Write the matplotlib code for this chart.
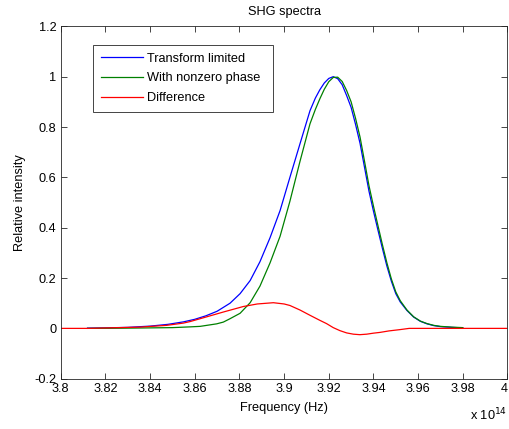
import matplotlib
matplotlib.use("Agg")
import matplotlib.pyplot as plt
from matplotlib.ticker import FuncFormatter

# frequencies in units of 1e14 Hz
freq_tl = [3.812, 3.820, 3.830, 3.840, 3.848, 3.855, 3.860, 3.865, 3.870, 3.8758,
           3.8803, 3.8848, 3.8892, 3.8937, 3.8982, 3.9026, 3.9071, 3.9116, 3.9140,
           3.916, 3.918, 3.920, 3.922, 3.924, 3.926, 3.928, 3.930, 3.932, 3.934,
           3.936, 3.938, 3.940, 3.942, 3.944, 3.946, 3.948, 3.950, 3.952, 3.955,
           3.958, 3.961, 3.964, 3.967, 3.970, 3.975, 3.980]
transform_limited = [0.001, 0.002, 0.004, 0.009, 0.016, 0.026, 0.036, 0.050, 0.068, 0.100,
                     0.138, 0.190, 0.265, 0.360, 0.468, 0.600, 0.733, 0.865, 0.915,
                     0.948, 0.975, 0.993, 1.000, 0.992, 0.968, 0.925, 0.878, 0.810, 0.735,
                     0.640, 0.545, 0.466, 0.391, 0.318, 0.248, 0.188, 0.138, 0.105, 0.071,
                     0.045, 0.028, 0.018, 0.011, 0.007, 0.004, 0.002]

freq_nz = [3.812, 3.830, 3.840, 3.850, 3.8579, 3.8624, 3.8698, 3.8728, 3.8757, 3.8803,
           3.8848, 3.8892, 3.8937, 3.8982, 3.9026, 3.9071, 3.9116, 3.9140, 3.916,
           3.918, 3.920, 3.922, 3.924, 3.926, 3.928, 3.930, 3.932, 3.934, 3.936,
           3.938, 3.940, 3.942, 3.944, 3.946, 3.948, 3.950, 3.952, 3.955, 3.958,
           3.961, 3.964, 3.967, 3.970, 3.975, 3.980]
nonzero_phase = [0.000, 0.001, 0.002, 0.003, 0.006, 0.008, 0.018, 0.025, 0.038, 0.060,
                 0.102, 0.168, 0.260, 0.366, 0.505, 0.663, 0.813, 0.870, 0.912,
                 0.950, 0.980, 0.997, 0.998, 0.981, 0.945, 0.900, 0.834, 0.760, 0.664,
                 0.567, 0.486, 0.409, 0.333, 0.261, 0.197, 0.145, 0.110, 0.073, 0.046,
                 0.029, 0.019, 0.012, 0.008, 0.005, 0.003]

freq_diff = [3.800, 3.812, 3.8355, 3.8474, 3.8549, 3.8579, 3.8650, 3.8728, 3.8818,
             3.8880, 3.8952, 3.9000, 3.9026, 3.9071, 3.9116, 3.9160, 3.9190, 3.9220,
             3.9250, 3.9280, 3.9310, 3.9339, 3.9370, 3.9400, 3.9429, 3.9470, 3.9518,
             3.9560, 3.980, 4.000]
difference = [0.000, 0.000, 0.005, 0.012, 0.021, 0.027, 0.045, 0.065, 0.087,
              0.097, 0.102, 0.097, 0.091, 0.073, 0.052, 0.032, 0.019, 0.003,
              -0.009, -0.018, -0.023, -0.025, -0.023, -0.019, -0.016, -0.010, -0.005,
              0.000, 0.000, 0.000]

xticks = [3.8 + 0.02 * i for i in range(11)]
yticks = [-0.2, 0, 0.2, 0.4, 0.6, 0.8, 1, 1.2]

fs = 9.2
plt.rcParams['font.family'] = ['Liberation Sans', 'DejaVu Sans']
plt.rcParams['font.size'] = fs

fig = plt.figure(figsize=(5.09, 4.29), dpi=100)
ax = fig.add_axes([0.1193, 0.1172, 0.8777, 0.8214])

ax.plot(freq_tl, transform_limited, color=(0, 0, 1), lw=0.9, label='Transform limited')
ax.plot(freq_nz, nonzero_phase, color=(0, 0.5, 0), lw=0.9, label='With nonzero phase')
ax.plot(freq_diff, difference, color=(1, 0, 0), lw=0.9, label='Difference')

ax.set_xlim(3.8, 4.0)
ax.set_ylim(-0.2, 1.2)
ax.set_xticks(xticks)
ax.set_yticks(yticks)
ax.xaxis.set_major_formatter(FuncFormatter(lambda v, p: '%g' % round(v, 2)))
ax.yaxis.set_major_formatter(FuncFormatter(lambda v, p: '%g' % round(v, 1)))
ax.tick_params(direction='in', length=4, width=0.6, top=True, right=True,
               labelsize=fs, pad=3, color='#262626')
for s in ax.spines.values():
    s.set_linewidth(0.6)
    s.set_color('#262626')

# last tick label sits at the figure edge, keep it inside
ax.get_xticklabels()[-1].set_horizontalalignment('right')

ax.set_title('SHG spectra', fontsize=fs, pad=8)
ax.set_xlabel('Frequency (Hz)', fontsize=fs, labelpad=5)
ax.set_ylabel('Relative intensity', fontsize=fs, labelpad=6)
ax.text(1.0, -0.08, r'x 10$^{14}$', transform=ax.transAxes, ha='right', va='top', fontsize=fs)

leg = ax.legend(loc='upper left', bbox_to_anchor=(0.0723, 0.5, 0.403, 0.447), mode='expand',
                borderaxespad=0, fancybox=False, framealpha=1, edgecolor='#262626',
                fontsize=fs, handlelength=3.3, handletextpad=0.3, labelspacing=0.6,
                borderpad=0.6)
leg.get_frame().set_linewidth(0.6)

fig.savefig('out.png', dpi=100)
